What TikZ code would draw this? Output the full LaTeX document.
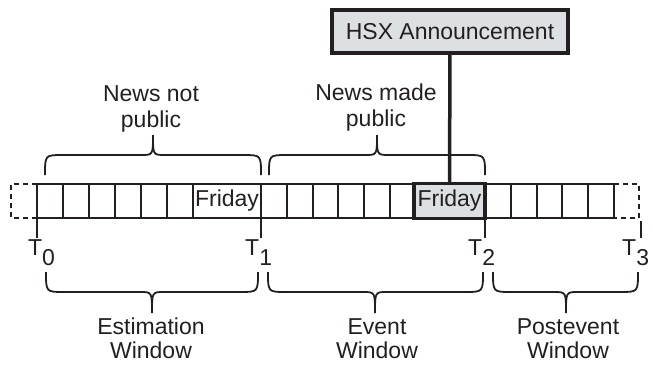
\documentclass[tikz,border=0pt]{standalone}
\usepackage{fontspec}
\setmainfont{Liberation Sans}
\definecolor{ink}{HTML}{231F20}
\definecolor{boxfill}{HTML}{DDE0E2}
\newcommand\mybrace[6]{%
  \draw[bracestyle] (#1,#4) .. controls (#1,#5) .. ({#1+18},#5) -- ({#3-12},#5)
    .. controls (#3,#5) .. (#3,#6) .. controls (#3,#5) .. ({#3+12},#5)
    -- ({#2-18},#5) .. controls (#2,#5) .. (#2,#4);}
\begin{document}
\begin{tikzpicture}[x=1pt,y=-1pt,
  every node/.style={text=ink, font=\fontsize{23}{27}\selectfont},
  bracestyle/.style={draw=ink, line width=1.8pt},
  cellline/.style={draw=ink, line width=2.4pt},
  stripline/.style={draw=ink, line width=1.7pt},
  dashline/.style={draw=ink, line width=1.5pt, dash pattern=on 5pt off 4pt},
  tickline/.style={draw=ink, line width=1.8pt},
  graybox/.style={draw=ink, fill=boxfill, line width=3.5pt, inner sep=0pt},
  lbl/.style={anchor=base, inner sep=0pt},
  tlabel/.style={anchor=base west, inner sep=0pt}]
\useasboundingbox (0,0) rectangle (653,364);
% strip
\draw[stripline] (37,184) -- (614,184);
\draw[stripline] (37,218) -- (614,218);
\draw[dashline] (37,184) -- (11,184) -- (11,218) -- (37,218);
\draw[dashline] (614,184) -- (639,184) -- (639,218) -- (614,218);
\foreach \x in {37,63,89,115,141,167,193,261,287,313,338,364,390,415,485,511,537,562,588,614}
  \draw[cellline] (\x,184) -- (\x,218);
% Friday cells
\node[inner sep=0pt] (fri1) at (227,201) {Friday};
\node[graybox, minimum width=71pt, minimum height=35pt] (fri2) at (449.5,201) {Friday};
% HSX box
\node[graybox, minimum width=236pt, minimum height=43pt] (hsx) at (450,31.5) {HSX Announcement};
\draw[draw=ink, line width=3.5pt] (hsx) -- (fri2);
% ticks
\draw[tickline] (37,218) -- (37,238);
\draw[tickline] (261,218) -- (261,238);
\draw[tickline] (485,218) -- (485,238);
\draw[tickline] (641,221) -- (641,238);
\node[tlabel] (t0) at (28,255) {T\raisebox{-10pt}{0}};
\node[tlabel] (t1) at (245,255) {T\raisebox{-10pt}{1}};
\node[tlabel] (t2) at (468,255) {T\raisebox{-10pt}{2}};
\node[tlabel] (t3) at (622,255) {T\raisebox{-10pt}{3}};
% top braces
\mybrace{45}{261}{153}{175}{155}{135}
\mybrace{269}{485}{377}{175}{155}{135}
\node[lbl] (npa) at (151,101) {News not};
\node[lbl] (npb) at (151,127) {public};
\node[lbl] (mpa) at (376,100) {News made};
\node[lbl] (mpb) at (376,126) {public};
% bottom braces
\mybrace{46}{258}{152}{272}{292}{313}
\mybrace{268}{483}{375}{272}{292}{313}
\mybrace{493}{638}{566}{272}{292}{313}
\node[lbl] (ewa) at (151,334) {Estimation};
\node[lbl] (ewb) at (151,358) {Window};
\node[lbl] (vwa) at (377,334) {Event};
\node[lbl] (vwb) at (377,358) {Window};
\node[lbl] (pwa) at (568,334) {Postevent};
\node[lbl] (pwb) at (568,358) {Window};
\end{tikzpicture}
\end{document}
